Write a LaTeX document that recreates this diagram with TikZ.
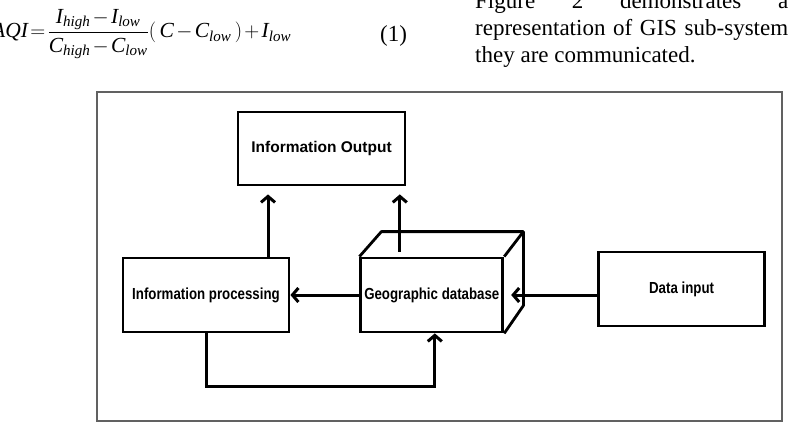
\documentclass[tikz,border=0pt]{standalone}
\usepackage{fontspec}
\setmainfont{Liberation Serif}
\newfontfamily\boxfont[FakeStretch=0.83]{Liberation Sans}
\newfontfamily\outfont{Liberation Sans}
\usepackage{amsmath}
\usepackage{xcolor}
\usetikzlibrary{arrows.meta,positioning,calc}

\begin{document}
\begin{tikzpicture}[
  x=1pt, y=-1pt,
  font=\fontsize{16}{19}\selectfont\boxfont\bfseries,
  box/.style={
    draw=black, line width=2.8pt, align=center, fill=white,
    minimum width=166pt, minimum height=74pt, inner sep=0pt
  },
  arr/.style={-{Straight Barb[length=6pt,width=14pt]}, line width=3pt, draw=black},
  frame/.style={draw=black!62, line width=2pt},
  txt/.style={font=\normalfont\fontsize{23}{27}\selectfont, anchor=base west, inner sep=0pt}
]
  \useasboundingbox (0,0) rectangle (799,422);
  \clip (0,0) rectangle (799,422);

  %% text above the figure
  \node[txt, font=\normalfont\fontsize{21.5}{25}\selectfont] (eq) at (-8,38) {\thickmuskip=2mu\medmuskip=2mu$\textit{AQI} = \dfrac{\textit{I}_{\textit{high}} - \textit{I}_{\textit{low}}}{\textit{C}_{\textit{high}} - \textit{C}_{\textit{low}}}(\,\textit{C} - \textit{C}_{\textit{low}}\,) + \textit{I}_{\textit{low}}$};
  \node[txt] (eqn) at (380,42) {(1)};
  \node[txt] (l1) at (475,9) {\makebox[313pt][s]{Figure 2 demonstrates a}};
  \node[txt] (l2) at (475,36) {\makebox[313pt][s]{representation of GIS sub-system}};
  \node[txt] (l3) at (475,63) {they are communicated.};

  %% frame
  \draw[frame] (97,92) rectangle (782,421);

  %% boxes
  \node[box] (ip) at (206,295) {Information processing};
  \node[box, minimum width=142pt, right=69pt of ip] (gd) {Geographic database};
  \node[box, right=93pt of gd, yshift=6pt] (di) {Data input};
  \node[box, minimum width=167pt, minimum height=73pt,
        font=\fontsize{15.5}{18}\selectfont\outfont\bfseries] (io) at (321.5,148.5) {Information Output};

  %% back of the database box
  \draw[line width=2.8pt, line join=round] (gd.north west) -- ++(22,-25) -- ++(142,0) coordinate (gdb) -- ++(0,74) -- (gd.south east);
  \draw[line width=2.8pt] (gd.north east) -- (gdb);

  %% connectors
  \coordinate (ipu) at ([xshift=62pt]ip.north);
  \coordinate (gdu) at ([xshift=-32pt,yshift=5pt]gd.north);
  \draw[arr, shorten >=8pt] (ipu) -- (ipu |- io.south);
  \draw[arr, shorten >=8pt] (gdu) -- (gdu |- io.south);
  \draw[arr] (gd.west) -- (ip.east);
  \draw[arr] (di.west |- gd.east) -- ([xshift=7pt]gd.east);
  \draw[arr] (ip.south) -- ++(0,53) -| ([xshift=3pt]gd.south);
\end{tikzpicture}
\end{document}
